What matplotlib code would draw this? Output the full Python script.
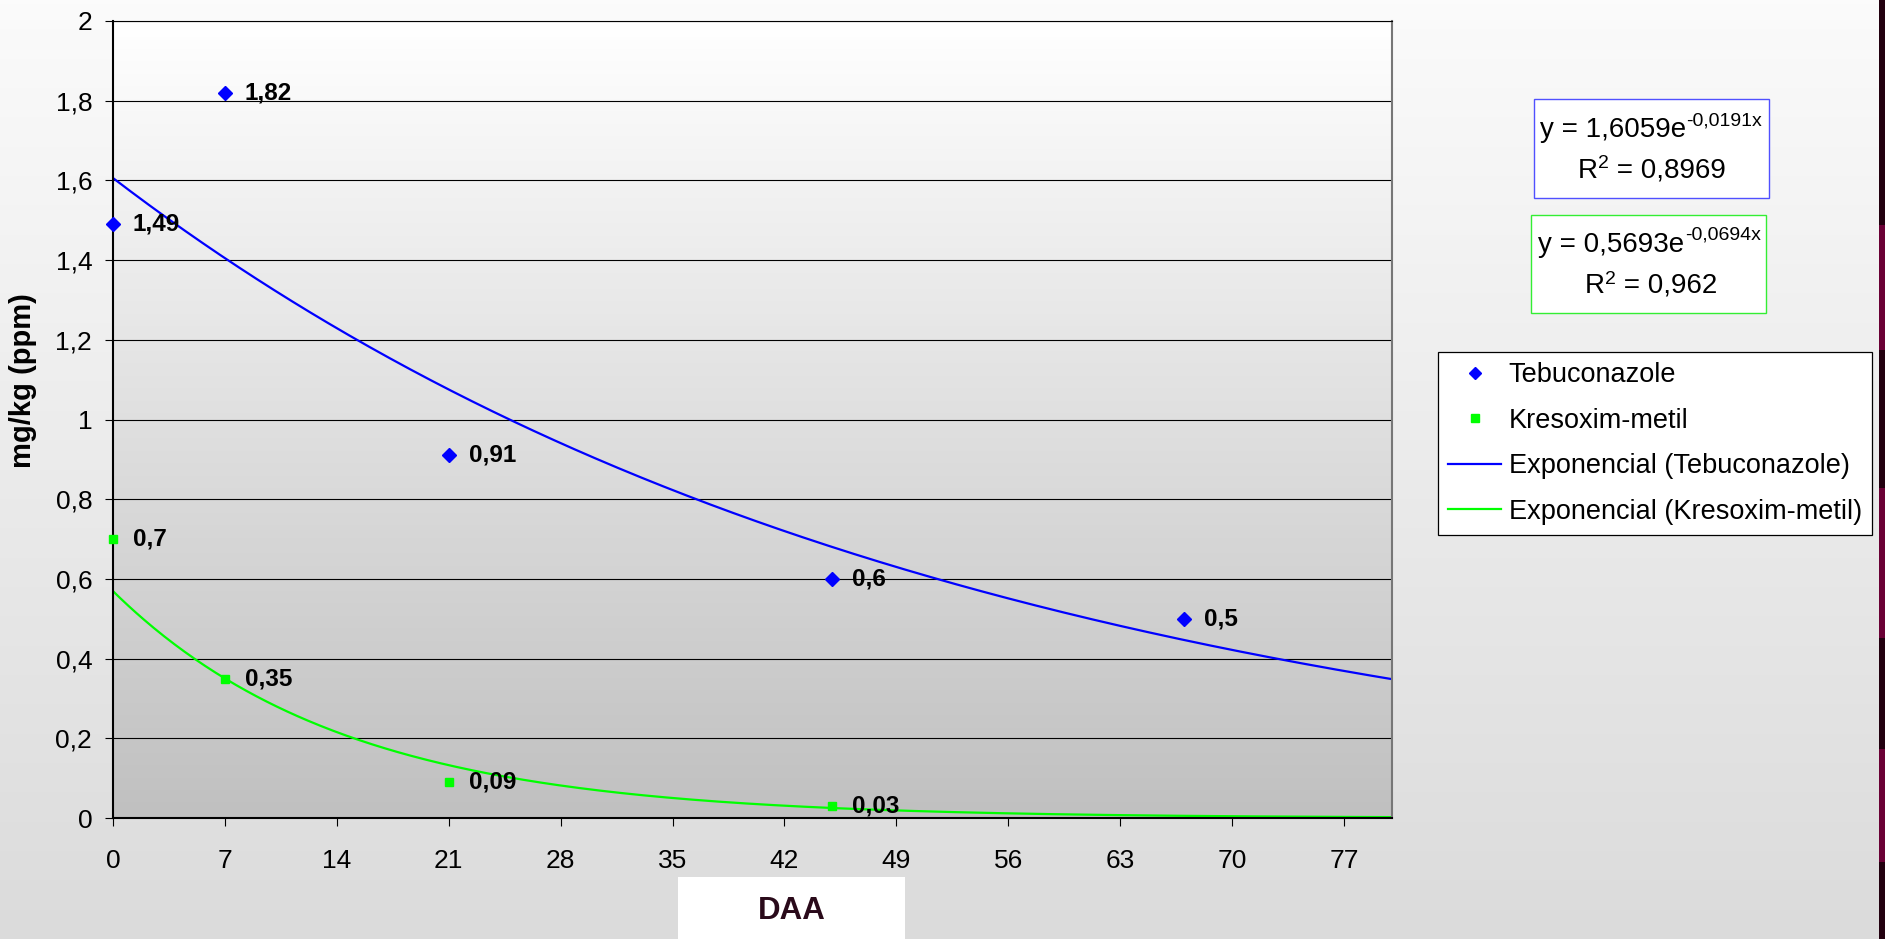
import numpy as np
import matplotlib
matplotlib.use('Agg')
import matplotlib.pyplot as plt
from matplotlib.patches import Rectangle
from matplotlib.lines import Line2D
from matplotlib.colors import LinearSegmentedColormap

plt.rcParams['font.family'] = ['Liberation Sans', 'DejaVu Sans']

# ---------------- data ----------------
days_teb = [0, 7, 21, 45, 67]
teb_vals = [1.49, 1.82, 0.91, 0.6, 0.5]
teb_labels = ['1,49', '1,82', '0,91', '0,6', '0,5']

days_kre = [0, 7, 21, 45]
kre_vals = [0.7, 0.35, 0.09, 0.03]
kre_labels = ['0,7', '0,35', '0,09', '0,03']

teb_fit_a, teb_fit_b = 1.6059, -0.0191
kre_fit_a, kre_fit_b = 0.5693, -0.0694
teb_eq = ('y = 1,6059e', '-0,0191x', '0,8969')
kre_eq = ('y = 0,5693e', '-0,0694x', '0,962')

series_names = ['Tebuconazole', 'Kresoxim-metil',
                'Exponencial (Tebuconazole)', 'Exponencial (Kresoxim-metil)']

xticks = [0, 7, 14, 21, 28, 35, 42, 49, 56, 63, 70, 77]
yticks = [0, 0.2, 0.4, 0.6, 0.8, 1.0, 1.2, 1.4, 1.6, 1.8, 2.0]
ytick_labels = [f"{v:g}".replace('.', ',') for v in yticks]
x_max, y_max = 80, 2

# ---------------- figure ----------------
W, H, DPI = 1885, 939, 100
fig = plt.figure(figsize=(W / DPI, H / DPI), dpi=DPI)


def px2fig(x, y):
    return x / W, 1 - y / H


# figure background gradient
bg = fig.add_axes([0, 0, 1, 1], zorder=-10)
grad = np.linspace(0, 1, 256).reshape(-1, 1)
cm_bg = LinearSegmentedColormap.from_list('bg', ['#dbdbdb', '#fbfbfb'])
bg.imshow(grad, cmap=cm_bg, origin='lower', extent=[0, 1, 0, 1], aspect='auto')
bg.set_xlim(0, 1)
bg.set_ylim(0, 1)
bg.axis('off')

# right decorative strip
strip = [(0, 225, '#22000f'), (225, 350, '#6a0035'), (350, 488, '#22000f'),
         (488, 638, '#6a0035'), (638, 749, '#22000f'), (749, 862, '#6a0035'),
         (862, 939, '#22000f')]
for top, bot, col in strip:
    x0, y0 = px2fig(1879, bot)
    fig.patches.append(Rectangle((x0, y0), 6 / W, (bot - top) / H,
                                 transform=fig.transFigure, facecolor=col,
                                 edgecolor='none', zorder=-5))

# main axes
L, R, T, B = 113, 1392, 21, 818
ax = fig.add_axes([L / W, 1 - B / H, (R - L) / W, (B - T) / H])
cm_ax = LinearSegmentedColormap.from_list('ax', ['#c0c0c0', '#ffffff'])
ax.imshow(grad, cmap=cm_ax, origin='lower', extent=[0, x_max, 0, y_max],
          aspect='auto', zorder=0)
ax.set_xlim(0, x_max)
ax.set_ylim(0, y_max)

ax.set_yticks(yticks)
ax.set_yticklabels(ytick_labels)
ax.set_xticks(xticks)
ax.set_xticklabels([str(v) for v in xticks])
ax.yaxis.grid(True, color='black', lw=0.8, zorder=1)
ax.tick_params(axis='both', direction='out', length=6, width=0.8, labelsize=19)
ax.tick_params(axis='x', pad=16)
ax.tick_params(axis='y', pad=9)

for s in ['left', 'bottom']:
    ax.spines[s].set_color('black')
    ax.spines[s].set_linewidth(1.5)
ax.spines['top'].set_color('black')
ax.spines['top'].set_linewidth(0.8)
ax.spines['right'].set_color('#777777')
ax.spines['right'].set_linewidth(1.5)

# trend curves
xx = np.linspace(0, x_max, 500)
ax.plot(xx, teb_fit_a * np.exp(teb_fit_b * xx), color='#0000ff', lw=1.6, zorder=2)
ax.plot(xx, kre_fit_a * np.exp(kre_fit_b * xx), color='#00ff00', lw=1.6, zorder=2)

# points
ax.plot(days_teb, teb_vals, ls='none', marker='D', ms=6.8, color='#0000ff',
        zorder=4, clip_on=False)
ax.plot(days_kre, kre_vals, ls='none', marker='s', ms=6.2, color='#00ff00',
        zorder=4, clip_on=False)

for x, y, lbl in zip(days_teb, teb_vals, teb_labels):
    ax.annotate(lbl, (x, y), xytext=(14.4, 0), textcoords='offset points',
                ha='left', va='center', fontsize=17.5, fontweight='bold', zorder=5)
for x, y, lbl in zip(days_kre, kre_vals, kre_labels):
    ax.annotate(lbl, (x, y), xytext=(14.4, 0), textcoords='offset points',
                ha='left', va='center', fontsize=17.5, fontweight='bold', zorder=5)

# y label
fig.text(*px2fig(23, 381), 'mg/kg (ppm)', rotation=90, ha='center', va='center',
         fontsize=21, fontweight='bold')

# x label in white box
x0, y0 = px2fig(678, 939)
fig.patches.append(Rectangle((x0, y0), (905 - 678) / W, (939 - 877) / H,
                             transform=fig.transFigure, facecolor='white',
                             edgecolor='none', zorder=1))
fig.text(*px2fig(791.5, 911), 'DAA', ha='center', va='center', fontsize=22.5,
         fontweight='bold', color='#2a0a1a', zorder=2)

# legend
handles = [Line2D([], [], ls='none', marker='D', ms=6, color='#0000ff'),
           Line2D([], [], ls='none', marker='s', ms=5.8, color='#00ff00'),
           Line2D([], [], color='#0000ff', lw=1.6),
           Line2D([], [], color='#00ff00', lw=1.6)]
leg = fig.legend(handles, series_names, loc='upper left',
                 bbox_to_anchor=px2fig(1438, 352), borderaxespad=0,
                 fontsize=19.5, frameon=True, fancybox=False, shadow=False,
                 handlelength=1.95, handletextpad=0.28, borderpad=0.38,
                 labelspacing=0.72)
leg.get_frame().set_edgecolor('black')
leg.get_frame().set_linewidth(0.9)
leg.get_frame().set_facecolor('white')
leg.get_frame().set_alpha(1)

# equation boxes
def box(x0p, y0p, x1p, y1p, ec):
    fx, fy = px2fig(x0p, y1p)
    fig.patches.append(Rectangle((fx, fy), (x1p - x0p) / W, (y1p - y0p) / H,
                                 transform=fig.transFigure, facecolor='white',
                                 edgecolor=ec, lw=1.0, zorder=1))


box(1534, 99, 1769, 198, '#5050ff')
box(1531, 215, 1766, 313, '#33ee33')

renderer = fig.canvas.get_renderer()


def eq_line(parts, cx, base):
    arts = []
    for txt, size, rise in parts:
        t = fig.text(0, 0, txt, fontsize=size, ha='left', va='baseline', zorder=3)
        arts.append((t, rise))
    widths = [t.get_window_extent(renderer).width for t, _ in arts]
    x = cx - sum(widths) / 2
    for (t, rise), w in zip(arts, widths):
        t.set_position(px2fig(x, base - rise))
        x += w


eq_line([(teb_eq[0], 20, 0), (teb_eq[1], 14, 12)], 1651, 137)
eq_line([('R', 20, 0), ('2', 14, 9), (' = ' + teb_eq[2], 20, 0)], 1652, 177.5)
eq_line([(kre_eq[0], 20, 0), (kre_eq[1], 14, 12)], 1649.5, 251.5)
eq_line([('R', 20, 0), ('2', 14, 9), (' = ' + kre_eq[2], 20, 0)], 1651, 293)

fig.savefig('out.png', dpi=DPI)
